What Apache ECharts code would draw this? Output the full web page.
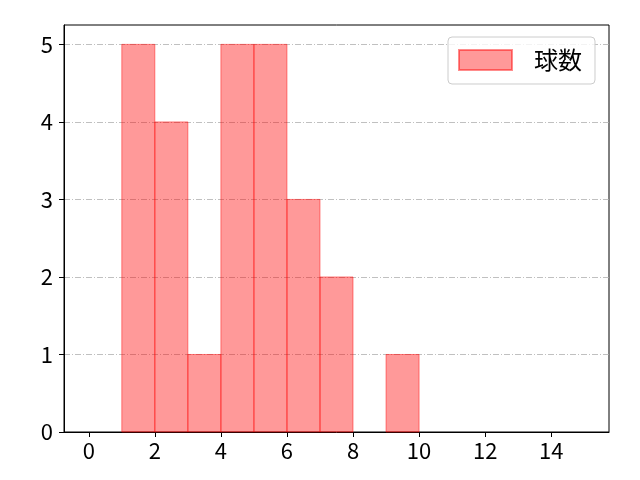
<!DOCTYPE html>
<html>
<head>
<meta charset="utf-8">
<script src="https://cdn.jsdelivr.net/npm/echarts@6/dist/echarts.min.js"></script>
<style>
html,body{margin:0;padding:0;background:#fff;}
#chart{width:640px;height:480px;}
</style>
</head>
<body>
<div id="chart"></div>
<script>
const seriesName = '球数';
const binStarts = [0,1,2,3,4,5,6,7,8,9,10,11,12,13,14];
const binEnds   = [1,2,3,4,5,6,7,8,9,10,11,12,13,14,15];
const counts    = [0,5,4,1,5,5,3,2,0,1,0,0,0,0,0];
const xTicks = [0,2,4,6,8,10,12,14];
const yTicks = [0,1,2,3,4,5];

const FONT = '"Noto Sans CJK JP", "Noto Sans", sans-serif';
const data = binStarts.map((s, i) => [s, binEnds[i], counts[i]]);

const chart = echarts.init(document.getElementById('chart'));
chart.setOption({
  animation: false,
  backgroundColor: '#ffffff',
  textStyle: { fontFamily: FONT },
  grid: { left: 64, right: 31, top: 25, bottom: 48, show: true, borderColor: '#000', borderWidth: 1, backgroundColor: 'transparent' },
  legend: {
    data: [{ name: seriesName, icon: 'rect' }],
    left: 448, top: 37,
    itemWidth: 53, itemHeight: 20,
    padding: [11, 13, 12, 10],
    borderColor: '#cccccc', borderWidth: 1, borderRadius: 4,
    backgroundColor: 'rgba(255,255,255,0.8)',
    textStyle: { fontFamily: FONT, fontSize: 24, color: '#000', padding: [0, 0, 0, 17] }
  },
  xAxis: {
    type: 'value', min: -0.75, max: 15.75,
    axisLine: { show: true, onZero: false, lineStyle: { color: '#000', width: 1 } },
    axisTick: { show: true, length: 5, lineStyle: { color: '#000' }, customValues: xTicks },
    axisLabel: { fontFamily: FONT, fontSize: 22, color: '#000', margin: 8, customValues: xTicks },
    splitLine: { show: false }
  },
  yAxis: {
    type: 'value', min: 0, max: 5.25,
    axisLine: { show: true, onZero: false, lineStyle: { color: '#000', width: 1 } },
    axisTick: { show: true, length: 5, lineStyle: { color: '#000' }, customValues: yTicks },
    axisLabel: { fontFamily: FONT, fontSize: 22, color: '#000', margin: 11, customValues: yTicks },
    splitLine: { show: true, lineStyle: { color: '#b0b0b0', width: 0.8, type: [6, 2, 1, 2] } }
  },
  series: [{
    name: seriesName,
    type: 'custom',
    data: data,
    encode: { x: [0, 1], y: 2 },
    itemStyle: { color: 'rgba(255,0,0,0.4)', borderColor: 'rgba(255,0,0,0.45)', borderWidth: 1 },
    renderItem: function (params, api) {
      if (api.value(2) === 0) return null;
      const p0 = api.coord([api.value(0), api.value(2)]);
      const p1 = api.coord([api.value(1), 0]);
      return {
        type: 'rect',
        shape: { x: p0[0], y: p0[1], width: p1[0] - p0[0], height: p1[1] - p0[1] },
        style: api.style()
      };
    }
  }]
});
</script>
</body>
</html>
